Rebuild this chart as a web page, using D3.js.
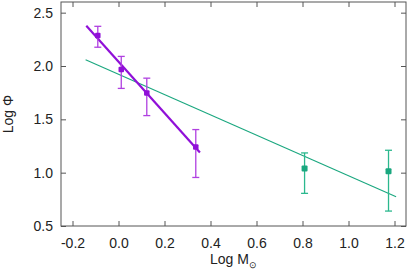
<html>
<head>
    <script src="https://d3js.org/d3.v7.min.js"></script>
    <style>
        body { margin: 0; background: #fff; }
        text { font-family: "Liberation Sans", Arial, sans-serif; font-size: 14px; fill: #222; }
    </style>
</head>
<body>
    <svg id="chart" width="407" height="271"></svg>
    <script>
        // data
        const purpleX = [-0.09, 0.012, 0.123, 0.336];
        const purpleY = [2.285, 1.967, 1.746, 1.241];
        const purpleLo = [2.176, 1.79, 1.535, 0.955];
        const purpleHi = [2.372, 2.09, 1.886, 1.404];
        const purpleFit = [[-0.14, 2.378], [0.354, 1.19]];

        const greenX = [0.809, 1.174];
        const greenY = [1.039, 1.014];
        const greenLo = [0.806, 0.64];
        const greenHi = [1.185, 1.21];
        const greenFit = [[-0.143, 2.058], [1.207, 0.774]];

        const xTicks = [-0.2, 0.0, 0.2, 0.4, 0.6, 0.8, 1.0, 1.2];
        const yTicks = [0.5, 1.0, 1.5, 2.0, 2.5];

        const svg = d3.select("#chart");
        const plotL = 61, plotR = 406, plotT = 2, plotB = 226;

        const x = d3.scaleLinear().domain([-0.25, 1.25]).range([plotL, plotR]);
        const y = d3.scaleLinear().domain([0.5, 2.6]).range([plotB, plotT]);

        const axisColor = "#555";
        const tickLen = 5;
        const fmt = d => d.toFixed(1);   // plain hyphen minus, like the original

        // ticks on all four sides, pointing inward
        svg.append("g").attr("transform", `translate(0,${plotB})`)
            .call(d3.axisBottom(x).tickValues(xTicks).tickSize(-tickLen).tickPadding(12).tickFormat(fmt))
            .call(g => g.select(".domain").remove());
        svg.append("g").attr("transform", `translate(0,${plotT})`)
            .call(d3.axisTop(x).tickValues(xTicks).tickSize(-tickLen).tickFormat(""))
            .call(g => g.select(".domain").remove());
        svg.append("g").attr("transform", `translate(${plotL},0)`)
            .call(d3.axisLeft(y).tickValues(yTicks).tickSize(-tickLen).tickPadding(8).tickFormat(fmt))
            .call(g => g.select(".domain").remove());
        svg.append("g").attr("transform", `translate(${plotR},0)`)
            .call(d3.axisRight(y).tickValues(yTicks).tickSize(-tickLen).tickFormat(""))
            .call(g => g.select(".domain").remove());

        svg.selectAll(".tick line").attr("stroke", axisColor);
        svg.selectAll(".tick text").style("font-size", "14px").attr("fill", "#222");

        svg.append("rect")
            .attr("x", plotL).attr("y", plotT)
            .attr("width", plotR - plotL).attr("height", plotB - plotT)
            .attr("fill", "none").attr("stroke", axisColor).attr("stroke-width", 1);

        // axis titles
        const xt = svg.append("text").attr("x", (plotL + plotR) / 2).attr("y", 264).attr("text-anchor", "middle");
        xt.append("tspan").text("Log M");
        xt.append("tspan").text("⊙").attr("dy", 4).style("font-size", "9px");

        svg.append("text")
            .attr("transform", `translate(13,${(plotT + plotB) / 2}) rotate(-90)`)
            .attr("text-anchor", "middle")
            .text("Log Φ");

        const line = d3.line().x(d => x(d[0])).y(d => y(d[1]));

        function drawSet(xs, ys, lo, hi, fit, lineColor, lineWidth, barColor, ms) {
            const g = svg.append("g");
            g.append("path").attr("d", line(fit))
                .attr("stroke", lineColor).attr("stroke-width", lineWidth).attr("fill", "none");
            xs.forEach((xv, i) => {
                const cx = x(xv);
                g.append("line").attr("x1", cx).attr("x2", cx).attr("y1", y(lo[i])).attr("y2", y(hi[i]))
                    .attr("stroke", barColor).attr("stroke-width", 1.3);
                [lo[i], hi[i]].forEach(v => {
                    g.append("line").attr("x1", cx - 3.5).attr("x2", cx + 3.5).attr("y1", y(v)).attr("y2", y(v))
                        .attr("stroke", barColor).attr("stroke-width", 1.3);
                });
                g.append("rect").attr("x", cx - ms / 2).attr("y", y(ys[i]) - ms / 2)
                    .attr("width", ms).attr("height", ms).attr("rx", 1).attr("fill", lineColor);
            });
        }

        drawSet(greenX, greenY, greenLo, greenHi, greenFit, "#1aa77f", 1.1, "#2bb88e", 6);
        drawSet(purpleX, purpleY, purpleLo, purpleHi, purpleFit, "#9010d8", 2.2, "#b040e0", 5.5);
    </script>
</body>
</html>
